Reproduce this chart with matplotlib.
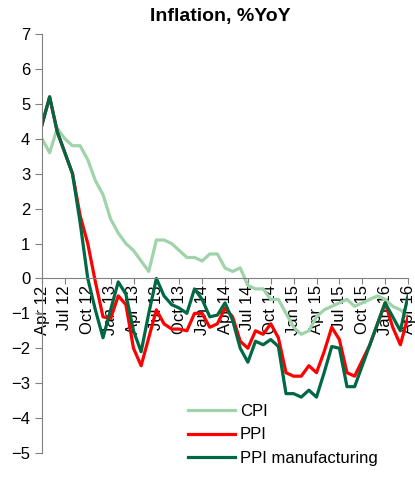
import matplotlib
matplotlib.use("Agg")
import matplotlib.pyplot as plt

plt.rcParams["font.family"] = ["Liberation Sans", "DejaVu Sans"]

# monthly, Apr 2012 .. Apr 2016
months = ['Apr 12', 'May 12', 'Jun 12', 'Jul 12', 'Aug 12', 'Sep 12', 'Oct 12', 'Nov 12', 'Dec 12',
          'Jan 13', 'Feb 13', 'Mar 13', 'Apr 13', 'May 13', 'Jun 13', 'Jul 13', 'Aug 13', 'Sep 13',
          'Oct 13', 'Nov 13', 'Dec 13', 'Jan 14', 'Feb 14', 'Mar 14', 'Apr 14', 'May 14', 'Jun 14',
          'Jul 14', 'Aug 14', 'Sep 14', 'Oct 14', 'Nov 14', 'Dec 14', 'Jan 15', 'Feb 15', 'Mar 15',
          'Apr 15', 'May 15', 'Jun 15', 'Jul 15', 'Aug 15', 'Sep 15', 'Oct 15', 'Nov 15', 'Dec 15',
          'Jan 16', 'Feb 16', 'Mar 16', 'Apr 16']

cpi = [4.0, 3.6, 4.3, 4.0, 3.8, 3.8, 3.4, 2.8, 2.4,
       1.7, 1.3, 1.0, 0.8, 0.5, 0.2, 1.1, 1.1, 1.0,
       0.8, 0.6, 0.6, 0.5, 0.7, 0.7, 0.3, 0.2, 0.3,
       -0.2, -0.3, -0.3, -0.6, -0.6, -1.0, -1.4, -1.6, -1.5,
       -1.1, -0.9, -0.8, -0.7, -0.6, -0.8, -0.7, -0.6, -0.5,
       -0.6, -0.8, -0.9, -1.1]

ppi = [4.4, 5.2, 4.2, 3.6, 3.0, 1.8, 1.0, -0.1, -1.1,
       -1.15, -0.5, -0.75, -2.0, -2.5, -1.7, -0.9, -1.3, -1.45,
       -1.45, -1.5, -1.0, -1.0, -1.4, -1.3, -0.85, -1.1, -1.8,
       -2.0, -1.5, -1.6, -1.3, -1.7, -2.7, -2.8, -2.8, -2.5,
       -2.7, -2.1, -1.4, -1.75, -2.7, -2.8, -2.35, -1.9, -1.3,
       -0.7, -1.4, -1.9, -1.1]

ppi_manuf = [4.4, 5.2, 4.2, 3.6, 3.0, 1.6, 0.0, -0.9, -1.7,
             -0.9, -0.1, -0.45, -1.5, -2.1, -1.0, 0.0, -0.5, -0.75,
             -0.85, -1.0, -0.3, -0.6, -1.1, -1.05, -0.7, -1.2, -2.0,
             -2.4, -1.8, -1.9, -1.75, -1.95, -3.3, -3.3, -3.4, -3.2,
             -3.4, -2.7, -1.95, -2.0, -3.1, -3.1, -2.5, -1.9, -1.3,
             -0.7, -1.1, -1.5, -0.5]

x = list(range(len(months)))

fig = plt.figure(figsize=(4.15, 4.83), dpi=100)
ax = fig.add_axes([42/415, 1-453/483, 366/415, 419/483])

ax.plot(x, cpi, color='#9fd3a9', lw=2.3, label='CPI')
ax.plot(x, ppi, color='#ff0000', lw=2.3, label='PPI')
ax.plot(x, ppi_manuf, color='#006843', lw=2.3, label='PPI manufacturing')

ax.set_xlim(0, len(months)-1)
ax.set_ylim(-5, 7)
ax.set_yticks(range(-5, 8))
ax.tick_params(axis='y', labelsize=12, length=5, color='#808080')
ax.tick_params(axis='x', length=4, color='#808080', pad=1, labelsize=12, labelrotation=90)
ax.set_xticks(x[::3])
ax.set_xticklabels(months[::3])
for lbl in ax.get_xticklabels():
    lbl.set_rotation(90)
    lbl.set_va('top')
    lbl.set_ha('center')

for s in ['top', 'right']:
    ax.spines[s].set_visible(False)
ax.spines['left'].set_color('#808080')
ax.spines['bottom'].set_color('#808080')
ax.spines['bottom'].set_position(('data', 0))

fig.text(220/415, 1-16/483, 'Inflation, %YoY', ha='center', va='center',
         fontsize=14, fontweight='bold')

fig.legend(loc='upper left', bbox_to_anchor=(188/415, 1-404/483), frameon=False,
           fontsize=12, handlelength=2.8, handletextpad=0.3, borderpad=0,
           borderaxespad=0, labelspacing=0.5)

fig.savefig('out.png', dpi=100)
